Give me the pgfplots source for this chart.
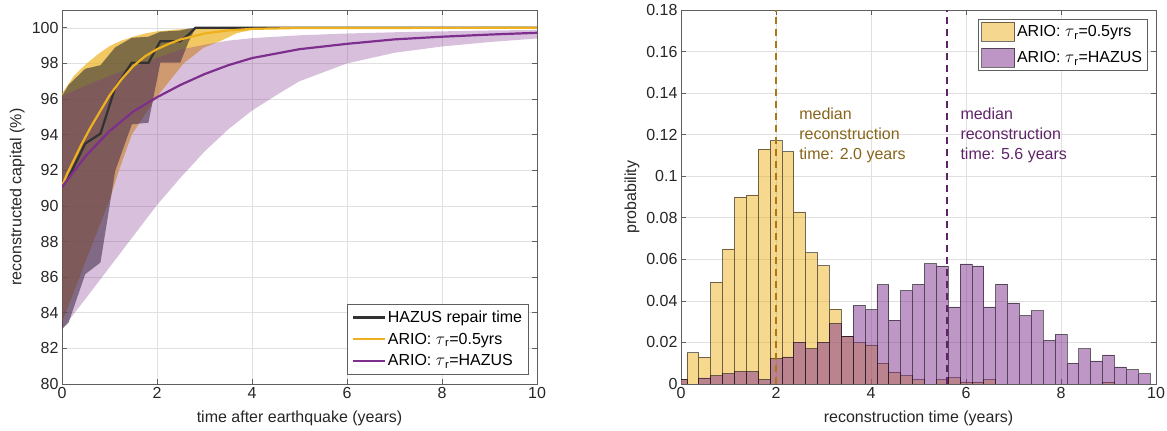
\documentclass[border=0pt]{standalone}
\usepackage{fontspec}
\setmainfont{Liberation Sans}
\usepackage{pgfplots}
\pgfplotsset{compat=1.18}

\definecolor{myyel}{RGB}{237,177,32}
\definecolor{mypur}{RGB}{126,47,142}
\definecolor{mydark}{RGB}{50,50,50}
\definecolor{goldtxt}{RGB}{135,100,25}
\definecolor{goldline}{RGB}{170,120,20}
\definecolor{purtxt}{RGB}{95,35,105}
\definecolor{axgray}{RGB}{95,95,95}
\definecolor{txtgray}{RGB}{38,38,38}

\newcommand{\fs}{\fontsize{16bp}{19bp}\selectfont}

\pgfplotsset{
  matlab/.style={
    scale only axis, width=475bp, height=374bp,
    xmin=0, xmax=10, xtick={0,2,4,6,8,10},
    tick align=inside, major tick length=5bp,
    axis line style={axgray, line width=0.7bp},
    every tick/.style={axgray, line width=0.7bp},
    grid=major, grid style={black!12, line width=0.6bp},
    tick label style={font=\fs, text=txtgray},
    label style={font=\fs, text=txtgray},
    /pgf/number format/assume math mode=true,
    xlabel style={at={(axis description cs:0.5,-0.091)}, anchor=center},
    legend cell align=left,
  },
  linelegend/.style={legend image code/.code={\draw[##1] (0bp,0bp) -- (32bp,0bp);}},
  patchlegend/.style={legend image code/.code={\draw[##1] (0bp,-9.5bp) rectangle (33bp,9.5bp);}},
}

\begin{document}
\begin{tikzpicture}
\useasboundingbox (-62bp,-47bp) rectangle (1105bp,384bp);

% ---------- left: reconstructed capital over time ----------
\begin{axis}[matlab,
  ymin=80, ymax=101, ytick={80,82,84,86,88,90,92,94,96,98,100},
  xlabel={time after earthquake (years)},
  ylabel={reconstructed capital (\%)},
  ylabel style={at={(axis description cs:-0.094,0.5)}, anchor=center},
  legend style={at={(0.982,0.025)}, anchor=south east, draw=axgray,
    line width=0.7bp, font=\fs, inner xsep=4bp, inner ysep=5bp, row sep=5bp},
]
% ARIO tau=0.5yrs spread
\addplot[draw=none, fill=myyel, fill opacity=0.7, forget plot] coordinates {
  (0,96.3)(0.25,97.3)(0.5,97.95)(0.75,98.5)(1,98.97)(1.25,99.28)(1.5,99.5)
  (1.75,99.68)(2,99.8)(2.5,99.92)(3,99.97)(4,100)(10,100)
  (10,100)(4.2,100)(3.68,99.7)(3.33,99.25)(2.98,98.88)(2.56,98.0)(1.96,96.0)
  (1.47,94.0)(1.2,92.0)(1.02,90.47)(0.5,86.9)(0,83.46)};
% HAZUS spread
\addplot[draw=none, fill=mydark, fill opacity=0.6, forget plot] coordinates {
  (0,96.17)(0.14,96.8)(0.49,97.7)(0.81,97.9)(1.12,98.9)(1.47,99.44)(1.82,99.5)
  (2.07,99.78)(2.49,99.85)(2.67,99.96)(2.81,100)
  (2.81,100)(2.67,99.25)(2.49,98.04)(2.07,98.04)(1.82,94.67)(1.47,94.58)
  (1.12,91.96)(0.81,86.82)(0.49,86.17)(0.14,83.46)(0,83.08)};
% ARIO tau=HAZUS spread
\addplot[draw=none, fill=mypur, fill opacity=0.3, forget plot] coordinates {
  (0,96.17)(0.5,96.75)(1,97.3)(1.5,97.8)(2,98.3)(2.5,98.78)(3,99.05)(3.5,99.28)
  (4,99.42)(5,99.58)(6,99.68)(7,99.75)(8,99.8)(9,99.85)(10,99.88)
  (10,99.4)(9,99.2)(8,98.95)(7,98.6)(6,98.0)(5,97.0)(4.5,96.2)(4,95.35)(3.5,94.3)
  (3,93.05)(2.5,91.6)(2,90.05)(1.5,88.3)(1,86.55)(0.5,84.8)(0,83.08)};

\addplot[mydark, line width=2.2bp, linelegend] coordinates {
  (0,91.07)(0.14,91.6)(0.49,93.5)(0.81,94.06)(1.12,96.64)(1.47,98.04)(1.82,98.04)
  (2.07,99.25)(2.49,99.25)(2.67,99.63)(2.81,100)(10,100)};
\addlegendentry{HAZUS repair time}
\addplot[myyel, line width=2.2bp, linelegend] coordinates {
  (0,91.1)(0.1,91.75)(0.2,92.3)(0.4,93.4)(0.6,94.4)(0.8,95.3)(1,96.2)(1.25,97.1)
  (1.5,97.85)(1.75,98.4)(2,98.8)(2.25,99.1)(2.5,99.35)(3,99.68)(3.5,99.85)
  (4,99.94)(5,99.99)(10,100)};
\addlegendentry{ARIO: $\tau$\textsubscript{r}=0.5yrs}
\addplot[mypur, line width=2.2bp, linelegend] coordinates {
  (0,91.07)(0.5,92.8)(1,94.2)(1.5,95.3)(2,96.1)(2.5,96.8)(3,97.4)(3.5,97.9)
  (4,98.3)(5,98.8)(6,99.1)(7,99.35)(8,99.5)(9,99.62)(10,99.72)};
\addlegendentry{ARIO: $\tau$\textsubscript{r}=HAZUS}
\end{axis}

% ---------- right: histogram of reconstruction time ----------
\begin{axis}[matlab, at={(619bp,0bp)},
  ymin=0, ymax=0.18,
  ytick={0,0.02,0.04,0.06,0.08,0.1,0.12,0.14,0.16,0.18},
  scaled y ticks=false,
  yticklabel style={/pgf/number format/fixed, /pgf/number format/precision=2},
  xlabel={reconstruction time (years)},
  ylabel={probability},
  ylabel style={at={(axis description cs:-0.103,0.5)}, anchor=center},
  legend style={at={(0.982,0.977)}, anchor=north east, draw=axgray,
    line width=0.7bp, font=\fs, inner xsep=3bp, inner ysep=3bp, row sep=6bp},
]
\addplot[ybar interval, fill=myyel, fill opacity=0.5, draw=black, draw opacity=0.55,
  line width=0.8bp, patchlegend] coordinates {
  (-0.125,0.002)(0.125,0.015)(0.375,0.0129)(0.625,0.049)(0.875,0.065)
  (1.125,0.090)(1.375,0.091)(1.625,0.113)(1.875,0.117)(2.125,0.1118)
  (2.375,0.0828)(2.625,0.0631)(2.875,0.057)(3.125,0.036)(3.375,0.023)
  (3.625,0.0198)(3.875,0.0188)(4.125,0.010)(4.375,0.0058)(4.625,0.004)
  (4.875,0.002)(5.125,0)(5.375,0.002)(5.625,0.003)(5.875,0.001)
  (6.125,0.001)(6.375,0.002)(6.625,0)(6.875,0)(7.125,0)
  (7.375,0)(7.625,0)(7.875,0)(8.125,0)(8.375,0)
  (8.625,0)(8.875,0.001)(9.125,0)(9.375,0)(9.625,0)(9.875,0)};
\addlegendentry{ARIO: $\tau$\textsubscript{r}=0.5yrs}
\addplot[ybar interval, fill=mypur, fill opacity=0.5, draw=black, draw opacity=0.55,
  line width=0.8bp, patchlegend] coordinates {
  (-0.125,0.002)(0.125,0)(0.375,0.0029)(0.625,0.0039)(0.875,0.0049)
  (1.125,0.006)(1.375,0.006)(1.625,0.0021)(1.875,0.0121)(2.125,0.013)
  (2.375,0.0201)(2.625,0.0169)(2.875,0.0201)(3.125,0.0291)(3.375,0.023)
  (3.625,0.0379)(3.875,0.0358)(4.125,0.0478)(4.375,0.0308)(4.625,0.0449)
  (4.875,0.048)(5.125,0.0579)(5.375,0.0568)(5.625,0.0371)(5.875,0.0578)
  (6.125,0.0568)(6.375,0.0371)(6.625,0.0481)(6.875,0.039)(7.125,0.0329)
  (7.375,0.0352)(7.625,0.021)(7.875,0.0239)(8.125,0.010)(8.375,0.0169)
  (8.625,0.0111)(8.875,0.014)(9.125,0.0082)(9.375,0.0069)(9.625,0.0049)(9.875,0)};
\addlegendentry{ARIO: $\tau$\textsubscript{r}=HAZUS}
% medians
\addplot[goldline, line width=2bp, dash pattern=on 7bp off 5bp, forget plot]
  coordinates {(2.0,0)(2.0,0.18)};
\addplot[purtxt, line width=2bp, dash pattern=on 7bp off 5bp, forget plot]
  coordinates {(5.6,0)(5.6,0.18)};
\node[anchor=west, align=left, inner sep=0pt, text=goldtxt,
  font=\fontsize{16bp}{20bp}\selectfont] at (axis cs:2.486,0.1195)
  {median\\reconstruction\\time: 2.0 years};
\node[anchor=west, align=left, inner sep=0pt, text=purtxt,
  font=\fontsize{16bp}{20bp}\selectfont] at (axis cs:5.88,0.1195)
  {median\\reconstruction\\time: 5.6 years};
\end{axis}
\end{tikzpicture}
\end{document}
